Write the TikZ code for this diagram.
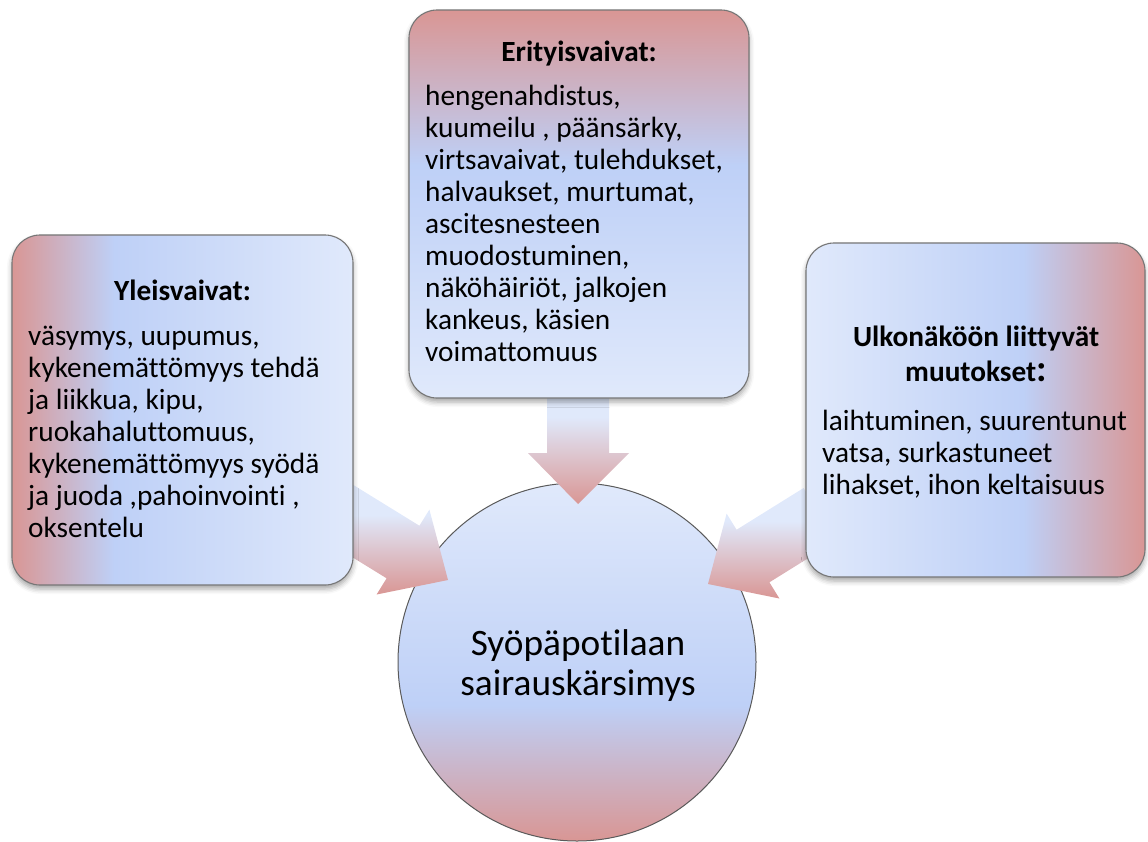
\documentclass[tikz,border=0pt]{standalone}
\usepackage{fontspec}
\setmainfont{Carlito}[Ligatures=NoCommon]
\usetikzlibrary{shadows.blur}

\definecolor{cred}{RGB}{217,150,148}
\definecolor{cblue}{RGB}{190,208,247}
\definecolor{clight}{RGB}{224,233,251}
\definecolor{cline}{RGB}{118,118,118}
\definecolor{cring}{RGB}{90,90,90}

% gradients: red edge -> saturated blue -> pale blue
\pgfdeclarehorizontalshading{shadeL}{100bp}{color(0bp)=(cred); color(25bp)=(cred); color(40bp)=(cblue); color(75bp)=(clight); color(100bp)=(clight)}
\pgfdeclarehorizontalshading{shadeR}{100bp}{color(0bp)=(clight); color(25bp)=(clight); color(57bp)=(cblue); color(75bp)=(cred); color(100bp)=(cred)}
\pgfdeclareverticalshading{shadeT}{100bp}{color(0bp)=(clight); color(25bp)=(clight); color(55bp)=(cblue); color(75bp)=(cred); color(100bp)=(cred)}
\pgfdeclareverticalshading{shadeC}{100bp}{color(0bp)=(cred); color(25bp)=(cred); color(44bp)=(cblue); color(75bp)=(clight); color(100bp)=(clight)}
\pgfdeclareverticalshading{shadeA}{100bp}{color(0bp)=(cred); color(25bp)=(cred); color(60bp)=(clight); color(100bp)=(clight)}

\tikzset{
  panel/.style={rectangle, rounded corners=28pt, draw=cline, line width=1.1pt,
    inner sep=0pt,
    blur shadow={shadow xshift=0pt, shadow yshift=-4pt, shadow blur radius=5pt, shadow opacity=35}},
  hub/.style={circle, draw=cring, line width=1pt, shading=shadeC, inner sep=0pt,
    minimum size=358pt},
  hubtext/.style={align=center, inner sep=0pt, font=\fontsize{37.3}{40}\selectfont},
  head/.style={font=\bfseries\fontsize{29.3}{32}\selectfont, inner sep=0pt, align=center},
  body/.style={font=\fontsize{29.3}{32}\selectfont, align=left, anchor=north west, inner sep=0pt},
  flow/.style={shading=shadeA},
}

\begin{document}
\begin{tikzpicture}[x=1pt, y=-1pt]
\useasboundingbox (0,0) rectangle (1148,841);

% central circle
\node[hub] (hub) at (577,662) {};
\node[hubtext, anchor=north] (hubt) at (578,628)
  {\rule{0pt}{27pt}Syöpäpotilaan\\sairauskärsimys};

% block arrows pointing into the circle
\path[flow] (547,380) -- (609,380) -- (609,453) -- (629,453) -- (578,504)
  -- (528,453) -- (547,453) -- cycle;
\path[flow] (346.4,480.7) -- (419.4,525.7) -- (429.4,509.6) -- (448,580)
  -- (376.6,594.5) -- (386.6,578.3) -- (313.6,533.3) -- cycle;
\path[flow] (803.6,488.0) -- (736.6,529.7) -- (726.6,513.6) -- (708,584)
  -- (779.4,598.5) -- (769.4,582.3) -- (836.4,540.6) -- cycle;

% the three panels
\node[panel, shading=shadeL, minimum width=341pt, minimum height=350pt] (yleis) at (182.5,410) {};
\node[panel, shading=shadeT, minimum width=340pt, minimum height=388pt] (erityis) at (579,204) {};
\node[panel, shading=shadeR, minimum width=339pt, minimum height=334pt] (ulko) at (975.5,410) {};

% panel headings
\node[head, anchor=base] (yleish) at (182.5,300) {Yleisvaivat:};
\node[head, anchor=base] (erityish) at (579,61.7) {Erityisvaivat:};
\node[head, anchor=north] (ulkoh) at (976,322.7)
  {\rule{0pt}{24pt}Ulkonäköön liittyvät\\[3pt]muutokset{\fontsize{38}{32}\selectfont:}};

% panel texts
\node[body] (yleist) at (28,321) {\rule{0pt}{24pt}väsymys, uupumus,\\
  kykenemättömyys tehdä\\ja liikkua, kipu,\\ruokahaluttomuus,\\
  kykenemättömyys syödä\\ja juoda ,pahoinvointi ,\\oksentelu};
\node[body] (erityist) at (425,81) {\rule{0pt}{24pt}hengenahdistus,\\
  kuumeilu , päänsärky,\\virtsavaivat, tulehdukset,\\halvaukset, murtumat,\\
  ascitesnesteen\\muodostuminen,\\näköhäiriöt, jalkojen\\kankeus, käsien\\voimattomuus};
\node[body] (ulkot) at (822,406) {\rule{0pt}{24pt}laihtuminen, suurentunut\\
  vatsa, surkastuneet\\lihakset, ihon keltaisuus};
\end{tikzpicture}
\end{document}
